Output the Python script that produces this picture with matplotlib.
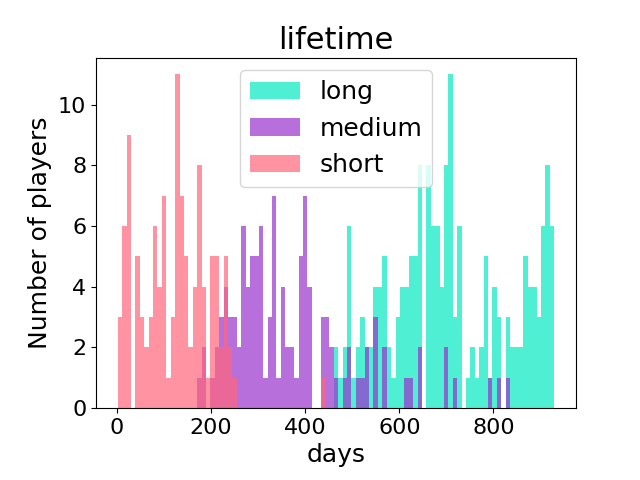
import matplotlib
matplotlib.use("Agg")
import matplotlib.pyplot as plt
import numpy as np

# shared bin grid (days)
DAY_MIN = 2
DAY_MAX = 929
N_BINS = 99

# players per bin, one list per class (bins 0..98)
short_counts = [
    3, 6, 9, 0, 5, 3, 2, 3, 6, 4, 7, 1, 3, 11, 7, 5, 2, 4, 8, 4,
    1, 5, 5, 2, 5, 2, 1, 0, 0, 0, 0, 0, 0, 0, 0, 0, 0, 0, 0, 0,
    0, 0, 0, 0, 0, 0, 1, 0, 0, 0, 0, 0, 0, 0, 0, 0, 0, 0, 0, 0,
    0, 0, 0, 0, 0, 0, 0, 0, 0, 0, 0, 0, 0, 0, 0, 0, 0, 0, 0, 0,
    0, 0, 0, 0, 0, 0, 0, 0, 0, 0, 0, 0, 0, 0, 0, 0, 0, 0, 0,
]
medium_counts = [
    0, 0, 0, 0, 0, 0, 0, 0, 0, 0, 0, 0, 0, 0, 0, 0, 0, 0, 1, 2,
    0, 1, 2, 3, 4, 3, 3, 2, 6, 4, 5, 5, 6, 1, 3, 7, 1, 4, 2, 2,
    1, 5, 7, 4, 0, 0, 3, 3, 2, 1, 0, 1, 2, 0, 1, 1, 2, 0, 3, 0,
    2, 0, 0, 0, 0, 1, 1, 0, 2, 0, 0, 0, 0, 0, 2, 0, 1, 0, 0, 0,
    0, 0, 0, 0, 1, 0, 1, 0, 1, 0, 0, 0, 0, 0, 0, 0, 0, 0, 0,
]
long_counts = [
    0, 0, 0, 0, 0, 0, 0, 0, 0, 0, 0, 0, 0, 0, 0, 0, 0, 0, 0, 0,
    0, 0, 0, 0, 0, 0, 0, 0, 0, 0, 0, 0, 0, 0, 0, 0, 0, 0, 0, 0,
    0, 0, 0, 0, 0, 0, 0, 0, 0, 2, 1, 2, 6, 1, 2, 3, 2, 2, 4, 4,
    5, 2, 1, 3, 4, 4, 5, 5, 8, 0, 8, 6, 6, 4, 8, 11, 3, 6, 0, 1,
    2, 1, 2, 5, 1, 4, 3, 0, 3, 2, 2, 2, 5, 4, 4, 3, 6, 8, 6,
]

labels = ["long", "medium", "short"]
colors = ["#05E9C1", "darkorchid", "#FF667A"]

edges = np.linspace(DAY_MIN, DAY_MAX, N_BINS + 1)
left = edges[:-1]

fig, ax = plt.subplots(figsize=(6.4, 4.8), dpi=100)
fig.subplots_adjust(left=0.15, bottom=0.15, right=0.9, top=0.88)

for counts, color, label in zip([long_counts, medium_counts, short_counts], colors, labels):
    ax.hist(left, bins=edges, weights=counts, alpha=0.7, color=color, label=label)

ax.set_title("lifetime", fontsize=22)
ax.set_xlabel("days", fontsize=18)
ax.set_ylabel("Number of players", fontsize=18)
ax.tick_params(labelsize=16)
ax.legend(loc="upper center", fontsize=18)

fig.savefig("out.png", dpi=100)
